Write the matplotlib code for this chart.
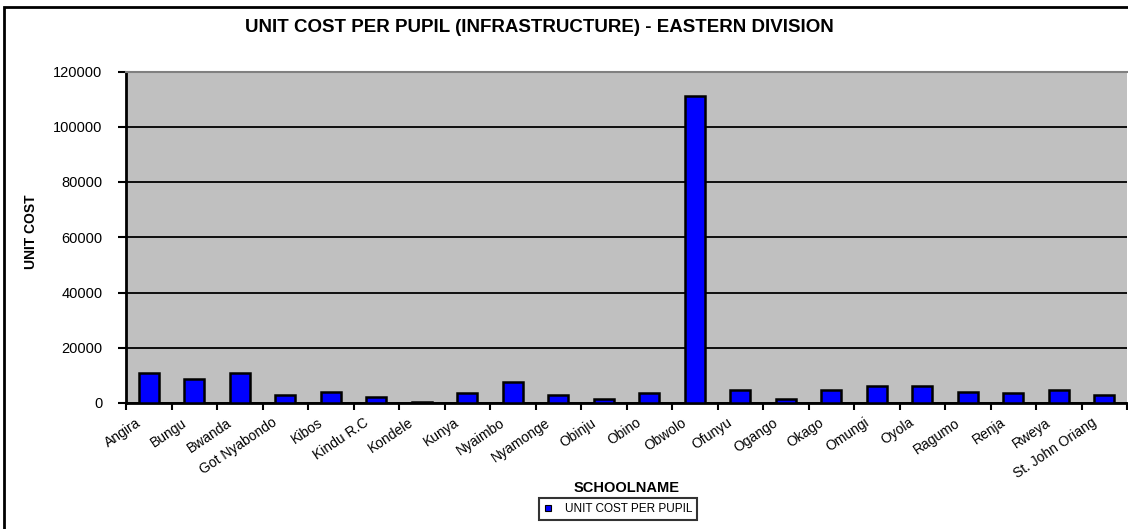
import matplotlib
matplotlib.use("Agg")
import matplotlib.pyplot as plt
from matplotlib.patches import Rectangle
from matplotlib.lines import Line2D
import matplotlib.transforms as mtransforms

plt.rcParams['font.family'] = ['Liberation Sans', 'DejaVu Sans']

schools = ["Angira", "Bungu", "Bwanda", "Got Nyabondo", "Kibos", "Kindu R.C",
           "Kondele", "Kunya", "Nyaimbo", "Nyamonge", "Obinju", "Obino",
           "Obwolo", "Ofunyu", "Ogango", "Okago", "Omungi", "Oyola",
           "Ragumo", "Renja", "Rweya", "St. John Oriang"]
unit_cost = [10900, 8800, 10900, 2800, 4100, 2200, 400, 3500, 7500, 2800,
             1500, 3500, 111000, 4800, 1500, 4800, 6200, 6200, 4100, 3500,
             4800, 2800]
yticks = [0, 20000, 40000, 60000, 80000, 100000, 120000]

W, H = 1128, 529
fig = plt.figure(figsize=(W / 100, H / 100), dpi=100)
ax = fig.add_axes([126 / W, 1 - 403 / H, 1001 / W, 331.5 / H])
ax.set_facecolor('#c0c0c0')

x = list(range(len(schools)))
ax.bar(x, unit_cost, width=0.45, color='#0000ff', edgecolor='black', linewidth=1.8, zorder=3)

ax.set_xlim(-0.5, len(schools) - 0.5)
ax.set_ylim(0, 120000)
ax.set_yticks(yticks)
ax.set_yticklabels([str(v) for v in yticks], fontsize=10.5)
ax.yaxis.grid(True, color='black', linewidth=1.3, zorder=1)
ax.set_axisbelow(True)
ax.tick_params(axis='y', direction='out', length=6, width=1.5, pad=11)

# ticks between categories, labels at centers
ax.set_xticks([i - 0.5 for i in range(len(schools) + 1)])
ax.set_xticklabels([])
ax.set_xticks(x, minor=True)
ax.set_xticklabels(schools, minor=True, fontsize=10, rotation=34,
                   ha='right', va='top', rotation_mode='anchor')
ax.tick_params(axis='x', which='major', direction='out', length=5, width=1.5)
ax.tick_params(axis='x', which='minor', length=0, pad=9)
off = mtransforms.ScaledTranslation(-9.5 / 72, 0, fig.dpi_scale_trans)
for lab in ax.get_xticklabels(minor=True):
    lab.set_transform(lab.get_transform() + off)

for s in ['left', 'bottom']:
    ax.spines[s].set_linewidth(2)
    ax.spines[s].set_color('black')
ax.spines['top'].set_color('#808080')
ax.spines['top'].set_linewidth(1.5)
ax.spines['right'].set_visible(False)

ax.set_ylabel("UNIT COST", fontsize=10, fontweight='bold', va='center')
ax.yaxis.set_label_coords(-(126 - 31) / 1001, (403 - 232) / 331.5)
ax.set_xlabel("SCHOOLNAME", fontsize=10.5, fontweight='bold', va='center')
ax.xaxis.set_label_coords(0.5, -(488 - 403) / 331.5)

fig.text(539 / W, 1 - 27.5 / H, "UNIT COST PER PUPIL (INFRASTRUCTURE) - EASTERN DIVISION",
         ha='center', va='center', fontsize=13.5, fontweight='bold')

handle = Line2D([], [], marker='s', linestyle='none', markersize=5,
                markerfacecolor='#0000ff', markeredgecolor='black', markeredgewidth=0.8)
leg = fig.legend([handle], ["UNIT COST PER PUPIL"], loc='center',
                 bbox_to_anchor=(618 / W, 1 - 509 / H), fontsize=8.5,
                 frameon=True, fancybox=False, handlelength=0.8,
                 handletextpad=1.0, borderpad=0.4, borderaxespad=0)
leg.get_frame().set_edgecolor('black')
leg.get_frame().set_linewidth(1.5)

fig.patches.append(Rectangle((4 / W, -0.1), 1.2, 1 - 7 / H + 0.1,
                             transform=fig.transFigure, fill=False,
                             edgecolor='black', linewidth=2))

fig.savefig("out.png", dpi=100)
